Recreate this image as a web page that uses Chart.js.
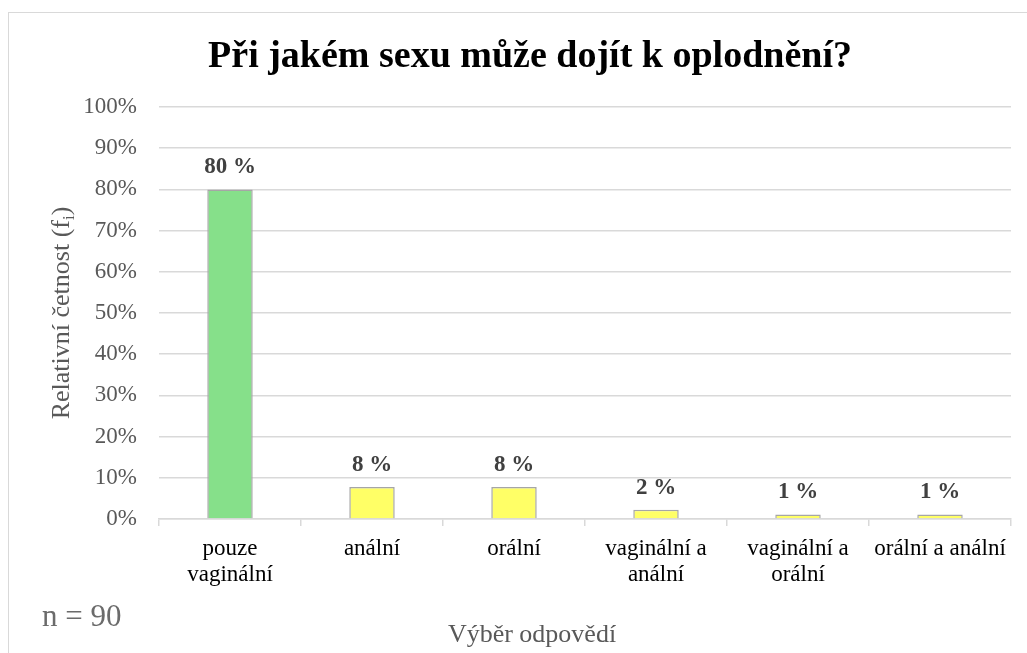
<!DOCTYPE html>
<html>
<head>
<meta charset="utf-8">
<script src="https://cdn.jsdelivr.net/npm/chart.js@4.4.1/dist/chart.umd.min.js"></script>
<style>
    html, body { margin: 0; padding: 0; background: #fff; }
    #wrap { width: 1027px; height: 653px; }
</style>
</head>
<body>
<div id="wrap"><canvas id="chart"></canvas></div>
<script>
// Data
const categories = [
    ['pouze', 'vaginální'],
    'anální',
    'orální',
    ['vaginální a', 'anální'],
    ['vaginální a', 'orální'],
    'orální a anální'
];
const shares = [80, 7.78, 7.78, 2.22, 1.11, 1.11];   // percent, counts out of n = 90
const shareLabels = ['80 %', '8 %', '8 %', '2 %', '1 %', '1 %'];
const yTicks = [0, 10, 20, 30, 40, 50, 60, 70, 80, 90, 100];
const barColors = ['#86e08a', '#ffff66', '#ffff66', '#ffff66', '#ffff66', '#ffff66'];

const serif = '"Liberation Serif", "Times New Roman", serif';


// Frame, titles, value labels
const decor = {
    id: 'decor',
    beforeDraw: chart => {
        const ctx = chart.ctx;
        ctx.save();
        ctx.fillStyle = '#fff';
        ctx.fillRect(0, 0, chart.width, chart.height);
        ctx.strokeStyle = '#d9d9d9';
        ctx.lineWidth = 1;
        ctx.strokeRect(8.5, 12.5, 1100, 700);
        ctx.restore();
    },
    afterDatasetsDraw: chart => {
        const ctx = chart.ctx;
        const meta = chart.getDatasetMeta(0);
        ctx.save();
        ctx.font = 'bold 23px ' + serif;
        ctx.fillStyle = '#404040';
        ctx.textAlign = 'center';
        ctx.textBaseline = 'middle';
        meta.data.forEach((bar, i) => {
            ctx.fillText(shareLabels[i], bar.x, bar.y - 22);
        });
        ctx.restore();
    },
    afterDraw: chart => {
        const ctx = chart.ctx;
        const area = chart.chartArea;
        ctx.save();

        // main title
        ctx.font = 'bold 38px ' + serif;
        ctx.fillStyle = '#000';
        ctx.textAlign = 'center';
        ctx.textBaseline = 'middle';
        ctx.fillText('Při jakém sexu může dojít k oplodnění?', 530, 57);

        // x axis title
        ctx.font = '26px ' + serif;
        ctx.fillStyle = '#595959';
        ctx.fillText('Výběr odpovědí', 532, 635);

        // n
        ctx.font = '31px ' + serif;
        ctx.fillStyle = '#6b6b6b';
        ctx.textAlign = 'left';
        ctx.fillText('n = 90', 42, 618);

        // y axis title with subscript
        ctx.translate(60, (area.top + area.bottom) / 2);
        ctx.rotate(-Math.PI / 2);
        ctx.fillStyle = '#595959';
        const main = 'Relativní četnost (f';
        ctx.font = '26px ' + serif;
        const wMain = ctx.measureText(main).width;
        const wClose = ctx.measureText(')').width;
        ctx.font = '17px ' + serif;
        const wSub = ctx.measureText('i').width;
        let x = -(wMain + wSub + wClose) / 2;
        ctx.textAlign = 'left';
        ctx.textBaseline = 'alphabetic';
        ctx.font = '26px ' + serif;
        ctx.fillText(main, x, 9);
        x += wMain;
        ctx.font = '17px ' + serif;
        ctx.fillText('i', x, 14);
        x += wSub;
        ctx.font = '26px ' + serif;
        ctx.fillText(')', x, 9);

        ctx.restore();
    }
};


const ctx = document.getElementById('chart');
new Chart(ctx, {
    type: 'bar',
    data: {
        labels: categories,
        datasets: [{
            data: shares,
            backgroundColor: barColors,
            borderColor: '#a6a6a6',
            borderWidth: 1.5,
            categoryPercentage: 1,
            barPercentage: 0.32
        }]
    },
    options: {
        responsive: true,
        maintainAspectRatio: false,
        animation: false,
        layout: {
            padding: { top: 107, right: 16, bottom: 0, left: 0 }
        },
        plugins: {
            legend: { display: false },
            tooltip: { enabled: false }
        },
        scales: {
            x: {
                grid: {
                    drawOnChartArea: false,
                    drawTicks: true,
                    tickLength: 7,
                    color: '#d9d9d9',
                    lineWidth: 1.5
                },
                border: { color: '#d9d9d9', width: 1.5 },
                ticks: {
                    color: '#000',
                    padding: 9,
                    maxRotation: 0,
                    autoSkip: false,
                    font: { family: serif, size: 23, lineHeight: 1.17 }
                },
                afterFit: scale => { scale.height = 134; }
            },
            y: {
                min: 0,
                max: 100,
                afterBuildTicks: scale => {
                    scale.ticks = yTicks.map(v => ({ value: v }));
                },
                grid: {
                    drawTicks: false,
                    color: '#d9d9d9',
                    lineWidth: 1.5
                },
                border: { display: false },
                ticks: {
                    color: '#595959',
                    padding: 22,
                    font: { family: serif, size: 23 },
                    callback: v => v + '%'
                },
                afterFit: scale => { scale.width = 159; }
            }
        }
    },
    plugins: [decor]
});
</script>
</body>
</html>
